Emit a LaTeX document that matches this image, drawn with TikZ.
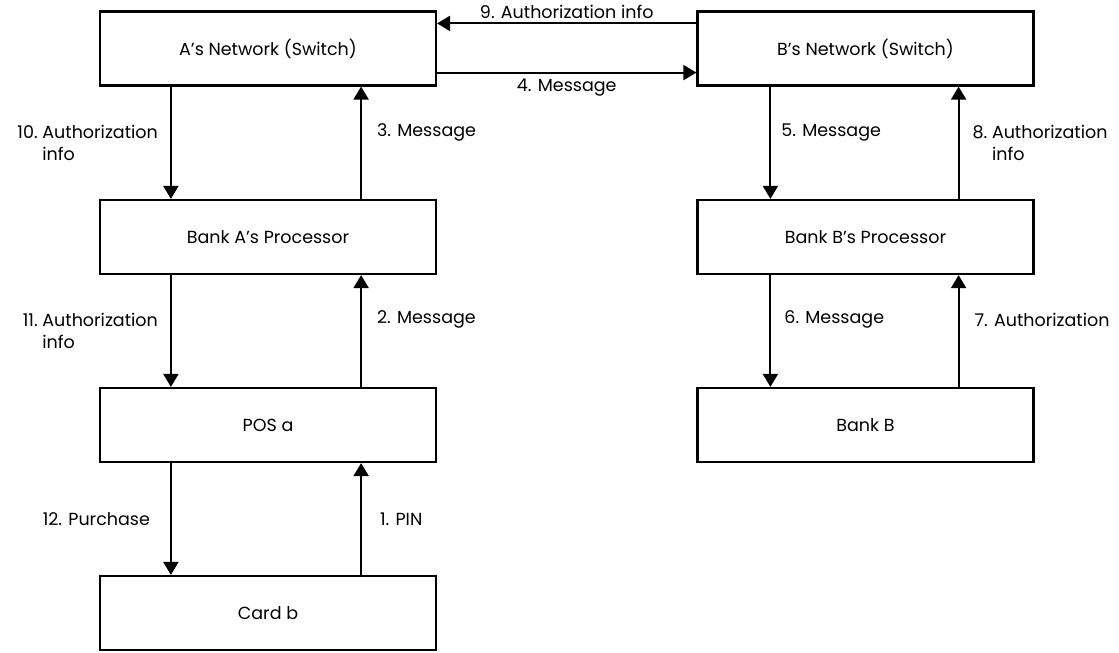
\documentclass[tikz,border=0pt]{standalone}
\usepackage{fontspec}
\setmainfont{Poppins}
\usetikzlibrary{arrows.meta}

\tikzset{
  box/.style={draw, line width=2.2pt, minimum width=336pt, minimum height=74pt, inner sep=0pt},
  flow/.style={-{Triangle[length=13pt,width=15pt]}, line width=2pt},
  lbl/.style={align=left, inner sep=0pt},
}

\begin{document}
\begin{tikzpicture}[x=1pt, y=-1pt, font=\fontsize{17.5}{22}\selectfont]

  \useasboundingbox (0,0) rectangle (1119,653);

  % --- side A ---
  \node[box] (aNet)  at (268, 48.5) {A’s Network (Switch)};
  \node[box] (aProc) at (268, 237)  {Bank A’s Processor};
  \node[box] (pos)   at (268, 425)  {POS a};
  \node[box] (card)  at (268, 613)  {Card b};

  % --- side B ---
  \node[box] (bNet)  at (865.5, 48.5) {B’s Network (Switch)};
  \node[box] (bProc) at (865.5, 237)  {Bank B’s Processor};
  \node[box] (bankB) at (865.5, 425)  {Bank B};

  % --- between the networks ---
  \draw[flow] ([yshift=-13pt]bNet.north west) -- ([yshift=-13pt]aNet.north east)
    node[lbl, midway, above=4pt] {9. Authorization info};
  \draw[flow] ([yshift=14pt]aNet.south east) -- ([yshift=14pt]bNet.south west)
    node[lbl, midway, below=5pt] {4. Message};

  % --- side A, going up ---
  \draw[flow] ([xshift=-76pt]card.north east) -- ([xshift=-76pt]pos.south east)
    node[lbl, midway, right=18pt] {1. PIN};
  \draw[flow] ([xshift=-76pt]pos.north east) -- ([xshift=-76pt]aProc.south east)
    node[lbl, pos=.6, right=15pt] {2. Message};
  \draw[flow] ([xshift=-76pt]aProc.north east) -- ([xshift=-76pt]aNet.south east)
    node[lbl, pos=.59, right=15pt] {3. Message};

  % --- side A, coming down ---
  \draw[flow] ([xshift=72pt]aNet.south west) -- ([xshift=72pt]aProc.north west)
    node[lbl, midway, left=12pt] {10.~Authorization\\\phantom{10.~}info};
  \draw[flow] ([xshift=72pt]aProc.south west) -- ([xshift=72pt]pos.north west)
    node[lbl, midway, left=12pt] {11.~Authorization\\\phantom{11.~}info};
  \draw[flow] ([xshift=72pt]pos.south west) -- ([xshift=72pt]card.north west)
    node[lbl, midway, left=20pt] {12. Purchase};

  % --- side B ---
  \draw[flow] ([xshift=74pt]bNet.south west) -- ([xshift=74pt]bProc.north west)
    node[lbl, pos=.41, right=10pt] {5. Message};
  \draw[flow] ([xshift=74pt]bProc.south west) -- ([xshift=74pt]bankB.north west)
    node[lbl, pos=.4, right=13pt] {6. Message};
  \draw[flow] ([xshift=-76pt]bankB.north east) -- ([xshift=-76pt]bProc.south east)
    node[lbl, pos=.6, right=15pt] {7. Authorization};
  \draw[flow] ([xshift=-76pt]bProc.north east) -- ([xshift=-76pt]bNet.south east)
    node[lbl, midway, right=13pt] {8.~Authorization\\\phantom{8.~}info};

\end{tikzpicture}
\end{document}
